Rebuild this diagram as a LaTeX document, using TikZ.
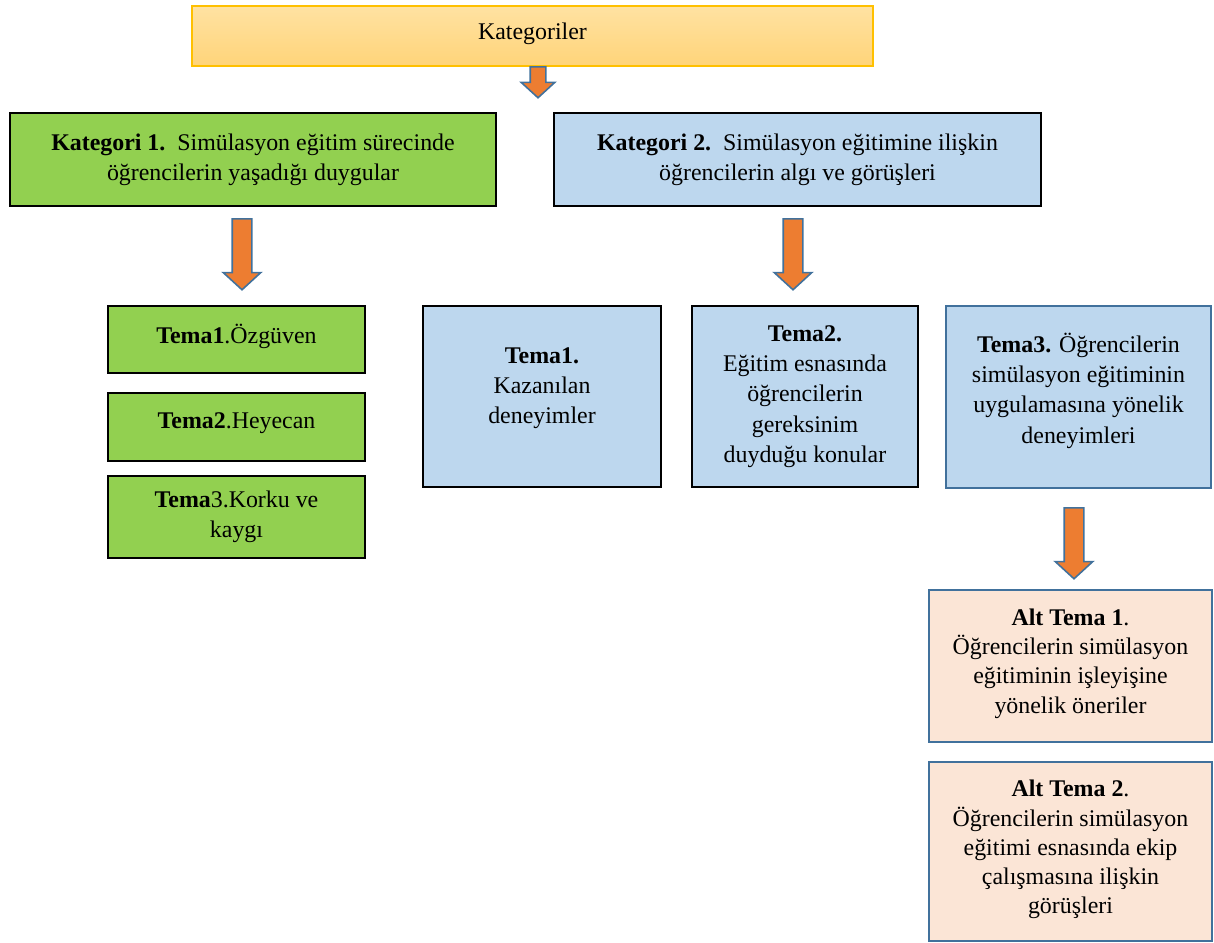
\documentclass[tikz,border=0pt]{standalone}
\usepackage{fontspec}
\setmainfont{Liberation Serif}
\usetikzlibrary{positioning}
\usetikzlibrary{shapes.arrows}
\definecolor{topedge}{HTML}{FFC000}
\definecolor{toplight}{HTML}{FFE2A2}
\definecolor{topdark}{HTML}{FFD479}
\definecolor{katgreen}{HTML}{92D050}
\definecolor{katblue}{HTML}{BDD7EE}
\definecolor{altpeach}{HTML}{FBE5D6}
\definecolor{steeledge}{HTML}{41719C}
\definecolor{arroworange}{HTML}{ED7D31}
% lifts a node's text by half the given depth
\newcommand{\liftby}[1]{\rule[-#1]{0pt}{0pt}}
\tikzset{
    box/.style={draw, line width=1.1pt, align=center, inner sep=0pt,
        font=\fontsize{13.6}{17.2}\selectfont},
    topbox/.style={box, draw=topedge, line width=0.8pt, top color=toplight, bottom color=topdark},
    greenbox/.style={box, fill=katgreen},
    bluebox/.style={box, fill=katblue},
    steelbox/.style={box, draw=steeledge, fill=katblue},
    peachbox/.style={box, draw=steeledge, fill=altpeach,
        font=\fontsize{13.6}{16.6}\selectfont},
    blockarr/.style={single arrow, draw=steeledge, fill=arroworange, line width=0.9pt,
        rotate=-90, anchor=tail, inner sep=0pt, text height=0.36cm, text depth=0pt,
        single arrow head extend=0.18cm, single arrow tip angle=95}
}

\begin{document}
\begin{tikzpicture}[x=0.02cm,y=-0.02cm]
    \useasboundingbox (0,0) rectangle (1214,943);

    % top
    \node (kat) [topbox, minimum width=13.62cm, minimum height=1.2cm] at (532.5,36) {Kategoriler\liftby{0.2cm}};
    \node (ar0) [blockarr, minimum height=0.62cm, text height=0.28cm] at (538,66) {};

    % categories
    \node (kat1) [greenbox, minimum width=9.72cm, minimum height=1.86cm] at (253,159.5)
        {\textbf{Kategori 1.}\ \ Simülasyon eğitim sürecinde\\öğrencilerin yaşadığı duygular};
    \node (kat2) [bluebox, minimum width=9.74cm, minimum height=1.86cm] at (797.5,159.5)
        {\textbf{Kategori 2.}\ \ Simülasyon eğitimine ilişkin\\öğrencilerin algı ve görüşleri};
    \node (ar1) [blockarr, minimum height=1.42cm] at (242,218) {};
    \node (ar2) [blockarr, minimum height=1.42cm] at (793,218) {};

    % themes of category 1
    \node (g1) [greenbox, minimum width=5.14cm, minimum height=1.34cm] at (236.5,339.5)
        {\textbf{Tema1}.Özgüven\liftby{0.24cm}};
    \node (g2) [greenbox, minimum width=5.14cm, minimum height=1.36cm, below=0.36cm of g1]
        {\textbf{Tema2}.Heyecan\liftby{0.24cm}};
    \node (g3) [greenbox, minimum width=5.14cm, minimum height=1.64cm, below=0.26cm of g2]
        {\textbf{Tema}3.Korku ve\\kaygı};

    % themes of category 2
    \node (b1) [bluebox, minimum width=4.76cm, minimum height=3.62cm] at (542,396.5)
        {\textbf{Tema1.}\\Kazanılan\\deneyimler\liftby{0.44cm}};
    \node (b2) [bluebox, minimum width=4.52cm, minimum height=3.62cm] at (805,396.5)
        {\textbf{Tema2.}\\Eğitim esnasında\\öğrencilerin\\gereksinim\\duyduğu konular};
    \node (b3) [steelbox, minimum width=5.3cm, minimum height=3.64cm] at (1078.5,397)
        {\textbf{Tema3.} Öğrencilerin\\simülasyon eğitiminin\\uygulamasına yönelik\\deneyimleri\liftby{0.36cm}};
    \node (ar3) [blockarr, minimum height=1.42cm] at (1074,507) {};

    % sub-themes
    \node (a1) [peachbox, minimum width=5.66cm, minimum height=3.04cm] at (1070.5,666)
        {\textbf{Alt Tema 1}.\\Öğrencilerin simülasyon\\eğitiminin işleyişine\\yönelik öneriler\liftby{0.2cm}};
    \node (a2) [peachbox, minimum width=5.66cm, minimum height=3.58cm, below=0.36cm of a1]
        {\textbf{Alt Tema 2}.\\Öğrencilerin simülasyon\\eğitimi esnasında ekip\\çalışmasına ilişkin\\görüşleri\liftby{0.18cm}};
\end{tikzpicture}
\end{document}
